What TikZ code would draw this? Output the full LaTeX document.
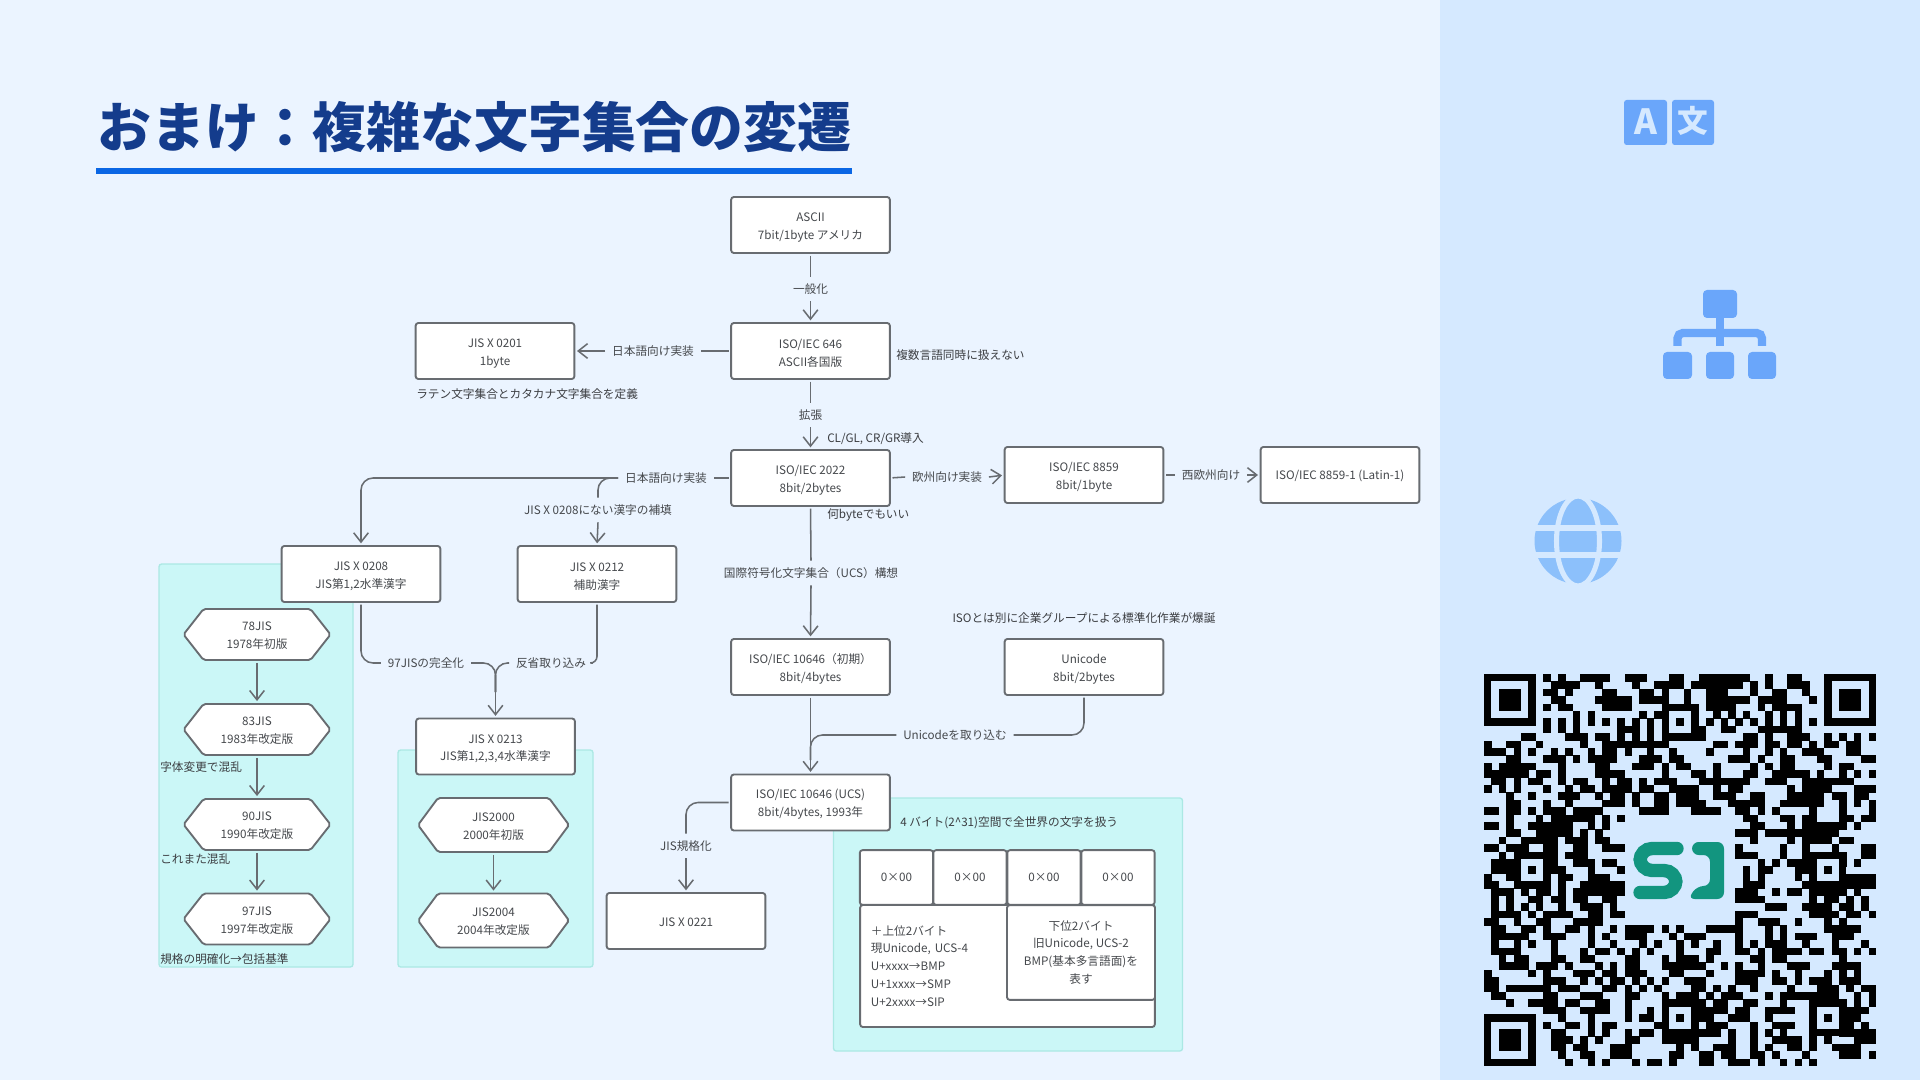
\documentclass[tikz,border=0pt]{standalone}
\usepackage{fontspec}
\setmainfont{Noto Sans CJK JP}
\usetikzlibrary{arrows.meta}
\definecolor{bgl}{HTML}{EBF4FF}
\definecolor{bgr}{HTML}{D5E9FF}
\definecolor{linec}{HTML}{686C71}
\definecolor{txtc}{HTML}{45484C}
\definecolor{tealf}{HTML}{CBF7F7}
\definecolor{teald}{HTML}{ABE8E4}
\definecolor{titlec}{HTML}{143C8C}
\definecolor{ruleb}{HTML}{0A66E4}
\definecolor{icona}{HTML}{6AA6FA}
\definecolor{iconb}{HTML}{8CC0FB}
\definecolor{logoc}{HTML}{12957F}
\tikzset{
 txtf/.style={font=\fontsize{8.75}{13.4}\selectfont,text=txtc,align=center,inner sep=0pt},
 lowered/.style={execute at begin node={\rule{0pt}{#1}}},
 sbox/.style={txtf,draw=linec,fill=white,line width=1.4pt,rounded corners=2pt,minimum width=119pt,minimum height=42pt,outer sep=0pt},
 tbox/.style={sbox,lowered=23.3pt},
 hexst/.style={draw=linec,fill=white,line width=1.4pt,rounded corners=1.5pt},
 lab/.style={txtf,fill=none,inner xsep=5pt,inner ysep=5pt},
 note/.style={txtf,text=txtc!85!black},
 conn/.style={draw=linec,line width=1.15pt,shorten <=2pt},
 conna/.style={conn,-{Straight Barb[length=7pt,width=11pt,line width=1.15pt]},shorten >=2pt},
 panel/.style={fill=tealf,draw=teald,line width=1pt,rounded corners=2pt},
}
\newcommand{\hexn}[6]{%
 \draw[hexst] ({#2-#4/2},#3) -- ({#2-#4/2+20},{#3-#5/2}) -- ({#2+#4/2-20},{#3-#5/2}) -- ({#2+#4/2},#3) -- ({#2+#4/2-20},{#3+#5/2}) -- ({#2-#4/2+20},{#3+#5/2}) -- cycle;
 \node[txtf,lowered=22pt,minimum width=#4*0.75pt,minimum height=#5*0.75pt] (#1) at (#2,#3) {#6};
}
% QR helpers
\newcount\qrc \newcount\qrr
\def\qrscan#1{\ifx#1\relax\else\if#11\fill[black] ({1484+7.396*\the\qrc},{674+7.396*\the\qrr}) rectangle ++(7.6,7.6);\fi\advance\qrc by 1 \expandafter\qrscan\fi}
\newcommand{\qrow}[2]{\qrc=0 \qrscan#1\relax\qrc=26 \qrscan#2\relax\advance\qrr by 1 }
\newcommand{\qrfinder}[2]{%
 \fill[bgr] ({1484+7.396*#1-7.4},{674+7.396*#2-7.4}) rectangle ++(66.6,66.6);
 \fill[black] ({1484+7.396*#1},{674+7.396*#2}) rectangle ++(51.8,51.8);
 \fill[bgr] ({1484+7.396*(#1+1)},{674+7.396*(#2+1)}) rectangle ++(37,37);
 \fill[black] ({1484+7.396*(#1+2)},{674+7.396*(#2+2)}) rectangle ++(22.2,22.2);}
\newcommand{\qralign}[2]{%
 \fill[black] ({1484+7.396*(#1-2)},{674+7.396*(#2-2)}) rectangle ++(37,37);
 \fill[bgr] ({1484+7.396*(#1-1)},{674+7.396*(#2-1)}) rectangle ++(22.2,22.2);
 \fill[black] ({1484+7.396*#1},{674+7.396*#2}) rectangle ++(7.4,7.4);}
\begin{document}
\begin{tikzpicture}[x=0.75pt,y=-0.75pt]
\useasboundingbox (0,0) rectangle (1920,1080);
\fill[bgl] (0,0) rectangle (1440,1080);
\fill[bgr] (1440,0) rectangle (1920,1080);
% title
\node[anchor=west,inner sep=0pt,text=titlec,font=\fontsize{40.4}{44}\selectfont\bfseries] (title) at (97,127) {おまけ：複雑な文字集合の変遷};
\fill[ruleb] (96,168) rectangle (852,174);
% panels
\draw[panel] (159,564) rectangle (353,967);
\draw[panel] (398,750) rectangle (593,967);
\draw[panel] (833.5,798) rectangle (1182.5,1051);
% boxes
\node[tbox] (ascii) at (810.5,225) {ASCII\\7bit/1byte アメリカ};
\node[tbox] (iso646) at (810.5,351) {ISO/IEC 646\\ASCII各国版};
\node[tbox] (iso2022) at (810.5,478) {ISO/IEC 2022\\8bit/2bytes};
\node[tbox] (jis0201) at (495,351) {JIS X 0201\\1byte};
\node[tbox] (iso8859) at (1084,475) {ISO/IEC 8859\\8bit/1byte};
\node[sbox,lowered=8.2pt] (latin) at (1340,475) {ISO/IEC 8859-1 (Latin-1)};
\node[tbox] (ucsa) at (810.5,667) {ISO/IEC 10646（初期）\\8bit/4bytes};
\node[tbox] (unicode) at (1084,667) {Unicode\\8bit/2bytes};
\node[tbox] (ucs) at (810.5,802.5) {ISO/IEC 10646 (UCS)\\8bit/4bytes, 1993年};
\node[sbox,lowered=8.2pt] (jis0221) at (686,921) {JIS X 0221};
\node[tbox] (jis0208) at (361,574) {JIS X 0208\\JIS第1,2水準漢字};
\node[tbox] (jis0212) at (597,574) {JIS X 0212\\補助漢字};
\node[tbox] (jis0213) at (495.5,746.5) {JIS X 0213\\JIS第1,2,3,4水準漢字};
% hexagons
\hexn{h78}{257}{634.5}{147}{51}{78JIS\\1978年初版}
\hexn{h83}{257}{729.5}{147}{51}{83JIS\\1983年改定版}
\hexn{h90}{257}{824.5}{147}{51}{90JIS\\1990年改定版}
\hexn{h97}{257}{919}{147}{51}{97JIS\\1997年改定版}
\hexn{h00}{493.5}{825}{151}{54}{JIS2000\\2000年初版}
\hexn{h04}{493.5}{920.5}{151}{54}{JIS2004\\2004年改定版}
% connector labels
\node[lab] (l1) at (810.5,289) {一般化};
\node[lab] (l2) at (810.5,415) {拡張};
\node[lab] (l3) at (653,351) {日本語向け実装};
\node[lab] (l4) at (666,478) {日本語向け実装};
\node[lab] (l5) at (598,510) {JIS X 0208にない漢字の補填};
\node[lab] (l6) at (947,477) {欧州向け実装};
\node[lab] (l7) at (1211,475) {西欧州向け};
\node[lab] (l8) at (811,573) {国際符号化文字集合（UCS）構想};
\node[lab] (l9) at (955,735) {Unicodeを取り込む};
\node[lab] (l10) at (426,663) {97JISの完全化};
\node[lab] (l11) at (551,663) {反省取り込み};
\node[lab] (l12) at (686,846) {JIS規格化};
\coordinate (m1) at (495.5,692);
\coordinate (m2) at (810.5,760);
% connectors
\draw[conn] (ascii.south) -- (l1.north);
\draw[conna,shorten <=0pt] (l1.south) -- (iso646.north);
\draw[conn] (iso646.south) -- (l2.north);
\draw[conna,shorten <=0pt] (l2.south) -- (iso2022.north);
\draw[conn] (iso646.west) -- (l3.east);
\draw[conna,shorten <=0pt] (l3.west) -- (jis0201.east);
\draw[conn] (iso2022.west) -- (l4.east);
\draw[conna,shorten <=0pt,rounded corners=9pt] (l4.west) -| (jis0208.north);
\draw[conn,shorten <=0pt,rounded corners=9pt] (l4.west) -| (l5.north);
\draw[conna,shorten <=0pt] (l5.south) -- (jis0212.north);
\draw[conn] (iso2022.east) -- (l6.west);
\draw[conna,shorten <=0pt] (l6.east) -- (iso8859.west);
\draw[conn] (iso8859.east) -- (l7.west);
\draw[conna,shorten <=0pt] (l7.east) -- (latin.west);
\draw[conn] (iso2022.south) -- (l8.north);
\draw[conna,shorten <=0pt] (l8.south) -- (ucsa.north);
\draw[conna] (ucsa.south) -- (ucs.north);
\draw[conn,rounded corners=9pt] (unicode.south) |- (l9.east);
\draw[conn,shorten <=0pt,rounded corners=9pt] (l9.west) -| (m2);
\draw[conn,rounded corners=9pt] (jis0208.south) |- (l10.west);
\draw[conn,shorten <=0pt,rounded corners=9pt] (l10.east) -| (m1);
\draw[conn,rounded corners=5pt] (jis0212.south) |- (l11.east);
\draw[conn,shorten <=0pt,rounded corners=9pt] (l11.west) -| (m1);
\draw[conna,shorten <=0pt] (m1) -- (jis0213.north);
\draw[conn,rounded corners=9pt] (ucs.west) -| (l12.north);
\draw[conna,shorten <=0pt] (l12.south) -- (jis0221.north);
\draw[conna] (h78.south) -- (h83.north);
\draw[conna] (h83.south) -- (h90.north);
\draw[conna] (h90.south) -- (h97.north);
\draw[conna] (h00.south) -- (h04.north);
% annotations
\node[note,anchor=west] (n1) at (416,394) {ラテン文字集合とカタカナ文字集合を定義};
\node[note,anchor=west] (n2) at (896,355) {複数言語同時に扱えない};
\node[note,anchor=west] (n3) at (827,439) {CL/GL, CR/GR導入};
\node[note,anchor=west] (n4) at (827,515) {何byteでもいい};
\node[note] (n5) at (1084,618) {ISOとは別に企業グループによる標準化作業が爆誕};
\node[note,anchor=west] (n6) at (160,767) {字体変更で混乱};
\node[note,anchor=west] (n7) at (160,859) {これまた混乱};
\node[note,anchor=west] (n8) at (160,959) {規格の明確化→包括基準};
\node[note,anchor=west] (n9) at (900,822.5) {4 バイト(2\textasciicircum 31)空間で全世界の文字を扱う};
% byte layout
\node[sbox,minimum width=221pt,minimum height=91.5pt,text width=205pt,align=left] (big) at (1007.5,966) {＋上位2バイト\\現Unicode, UCS-4\\U+xxxx→BMP\\U+1xxxx→SMP\\U+2xxxx→SIP};
\node[sbox,minimum width=111pt,minimum height=71pt] (low) at (1081,952.5) {下位2バイト\\旧Unicode, UCS-2\\BMP(基本多言語面)を\\表す};
\node[sbox,minimum width=55pt,minimum height=41pt] (c1) at (896.5,877.5) {0×00};
\node[sbox,minimum width=55pt,minimum height=41pt] (c2) at (970,877.5) {0×00};
\node[sbox,minimum width=55pt,minimum height=41pt] (c3) at (1044,877.5) {0×00};
\node[sbox,minimum width=55pt,minimum height=41pt] (c4) at (1118,877.5) {0×00};
% icons
\fill[icona,rounded corners=2pt] (1624,100) rectangle (1667,145);
\fill[icona,rounded corners=2pt] (1672,100) rectangle (1714,145);
\node[inner sep=0pt,text=bgr,font=\fontsize{26}{26}\selectfont\bfseries] (ia) at (1645.5,122) {A};
\node[inner sep=0pt,text=bgr,font=\fontsize{23}{23}\selectfont\bfseries] (ib) at (1693,121) {文};
\fill[icona,rounded corners=3pt] (1703,290) rectangle (1737,318);
\fill[icona] (1716,318) rectangle (1724,346);
\draw[icona,line width=6.2pt,rounded corners=4pt] (1677.5,346) -- (1677.5,333) -- (1762,333) -- (1762,346);
\fill[icona,rounded corners=3pt] (1663,352) rectangle (1692,379);
\fill[icona,rounded corners=3pt] (1706,352) rectangle (1734,379);
\fill[icona,rounded corners=3pt] (1748,352) rectangle (1776,379);
\fill[iconb] (1578,541) ellipse [x radius=43.5,y radius=43];
\draw[bgr,line width=3.8pt] (1578,541) ellipse [x radius=21.5,y radius=45];
\draw[bgr,line width=3.8pt] (1530,528) -- (1626,528) (1530,555) -- (1626,555);
% QR
\qrr=0
\qrow{000000001010011110011100011}{1001111111001001100}
\qrow{000000000111100100001001111}{1011111110101001110}
\qrow{000000001101000011000110100}{0100111000100110010}
\qrow{000000000110000111110111100}{0100111111011110001}
\qrow{000000001011000011110000111}{1110111100010111100}
\qrow{000000000000101000000101100}{0010010101001010100}
\qrow{000000001010101010101010101}{1010101010101010101}
\qrow{000000001010100000111010100}{0011001100011111100}
\qrow{000001100001110110101010100}{111100000110100111001010101}
\qrow{100110010000010011111111100}{000001101110110110101101100}
\qrow{111010100101001011010010010}{000010000100101001110001100}
\qrow{000110001110101111000111011}{100000011101001100011000011}
\qrow{101111100010000110001110100}{110001000010101100001011000}
\qrow{111111011010000111100000100}{001101000110011111010010101}
\qrow{011010110010110010110101110}{000111111100111001111111000}
\qrow{101010001001011011110110010}{111001011000000101111000111}
\qrow{000100100011100101101001100}{111001110011000111110110110}
\qrow{000110001001000011101001100}{111100011111001111110010101}
\qrow{110110101110111100000111100}{001111001101010000100010001}
\qrow{0001000101111110101}{000000000110001101100011011}
\qrow{1101001111110010100}{000000000011000101111110100}
\qrow{0001100111110101000}{000000001110111111111100000}
\qrow{0010011111011101100}{000000000010000101111011000}
\qrow{1101110011001100111}{000000001000001001000100011}
\qrow{0010111111011100000}{000000001110001001111110011}
\qrow{0111100011001110110}{000000000001010111001010100}
\qrow{0111101011100010001}{00000000010110001111}
\qrow{1001100000110011100}{000000000101000010000001111}
\qrow{1100111110100111111}{000000000111000001111111111}
\qrow{0111010110101111111}{000000001110010110111110100}
\qrow{0101001101101100110}{000000001111000000101101010}
\qrow{0101010100100111010}{000000000000111001111011010}
\qrow{0111101011110011011}{000000001110000000111101101}
\qrow{1100100110001111000}{000000001001110010001010000}
\qrow{011001101001101001011110101}{100011111000101000001111100}
\qrow{011111001110001010011100010}{011100001000101011100111000}
\qrow{010010100100001001000101000}{101001001010111001000100010}
\qrow{011110000100010110101010000}{100011001101011110110110101}
\qrow{001011000110011000011000100}{111010000011011000000010000}
\qrow{001111011101000101011000111}{111100101001000111000111100}
\qrow{100000101000111011011100011}{100010001111010010001010100}
\qrow{110000001110010101101010100}{011100001110011010111011100}
\qrow{110111111011100011010101000}{001101010010000100011101011}
\qrow{011000001100011100011000100}{111010111000101111111100101}
\qrow{000100111101100110010000111}{111101100110001000111110101}
\qrow{000000001110011110010010100}{001111101100111100100001110}
\qrow{000000000010001000010110101}{001110011100100000100001100}
\qrow{000000001001101011000001100}{111011100010011100100011010}
\qrow{000000000110001010010110111}{111111010010101000100011111}
\qrow{000000000111010100011000111}{111000010010011110101000111}
\qrow{000000000110110001110000001}{101001110010100110100111100}
\qrow{000000000010011001110000011}{100110110011010001000011101}
\qrow{000000000001001010001011010}{000110011101001010100000000}
\qrfinder{0}{0}\qrfinder{46}{0}\qrfinder{0}{46}
\qralign{26}{6}\qralign{6}{26}\qralign{46}{26}\qralign{26}{46}\qralign{46}{46}
% logo
\draw[logoc,line width=10pt,line cap=round,rounded corners=9pt] (1677,848.5) -- (1640,848.5) -- (1640,870.5) -- (1676,870.5) -- (1676,892.5) -- (1640,892.5);
\fill[logoc,rounded corners=5pt] (1692,842) -- (1724,842) -- (1724,899) -- (1688,899) -- (1697,886) -- (1710,886) -- (1710,855) -- (1692,855) -- cycle;
\end{tikzpicture}
\end{document}
